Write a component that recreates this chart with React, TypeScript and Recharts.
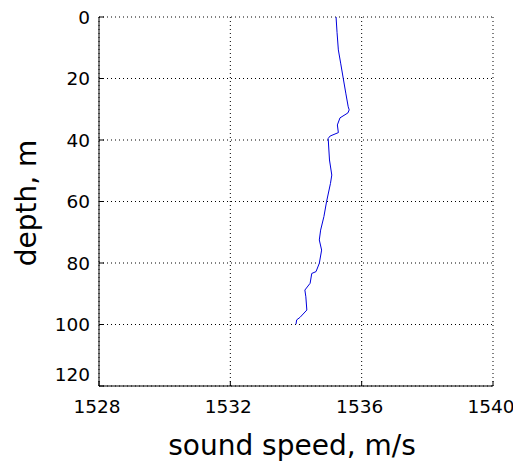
import {
  CartesianGrid,
  Label,
  Scatter,
  ScatterChart,
  XAxis,
  YAxis,
} from "recharts";
import { JSX } from "react";

const depths = [
  0, 5, 10.7, 15, 20, 25, 29.2, 30.2, 31.2, 32.8, 35.1, 37.6, 38.7, 39.5, 46.5,
  51.4, 54.1, 60.1, 64.9, 69.3, 72.5, 75.8, 80.1, 82.8, 83.4, 86.6, 88.8, 91,
  95.3, 97.7, 98.5, 99.9,
];
const speeds = [
  1535.22, 1535.25, 1535.29, 1535.36, 1535.44, 1535.52, 1535.59, 1535.62,
  1535.58, 1535.34, 1535.26, 1535.29, 1535.04, 1534.98, 1535.02, 1535.09,
  1535.05, 1534.93, 1534.85, 1534.75, 1534.71, 1534.78, 1534.71, 1534.61,
  1534.48, 1534.43, 1534.27, 1534.3, 1534.33, 1534.12, 1534.02, 1534.0,
];
const speedTicks = [1528, 1532, 1536, 1540];
const depthTicks = [0, 20, 40, 60, 80, 100, 120];

const profile = depths.map((d, i) => ({ depth: d, speed: speeds[i] }));

const FONT = "DejaVu Sans";

function BottomTick(props: any): JSX.Element {
  const { x, y, payload } = props;
  return (
    <g>
      <line x1={x} x2={x} y1={y} y2={y - 5} stroke="#000" />
      <text x={x - 2} y={y + 27} textAnchor="middle" fontSize={18.5} fontFamily={FONT} fill="#000">
        {payload.value}
      </text>
    </g>
  );
}

function LeftTick(props: any): JSX.Element {
  const { x, y, payload } = props;
  const dy = payload.value === 120 ? -5 : 6.5;
  return (
    <g>
      <line x1={x} x2={x + 5} y1={y} y2={y} stroke="#000" />
      <text x={x - 9} y={y + dy} textAnchor="end" fontSize={18.5} fontFamily={FONT} fill="#000">
        {payload.value}
      </text>
    </g>
  );
}

function TopTick(props: any): JSX.Element {
  const { x, y } = props;
  return <line x1={x} x2={x} y1={y} y2={y + 5} stroke="#000" />;
}

function RightTick(props: any): JSX.Element {
  const { x, y } = props;
  return <line x1={x} x2={x - 5} y1={y} y2={y} stroke="#000" />;
}

export default function App(): JSX.Element {
  return (
    <div>
      <style>{"html, body { overflow: hidden; }"}</style>
      <ScatterChart
        width={513}
        height={454}
        margin={{ top: 9, right: 28, left: 0, bottom: 0 }}
        style={{ overflow: "visible" }}
      >
        <CartesianGrid stroke="#000" strokeDasharray="1 3" />
        <XAxis
          type="number"
          dataKey="speed"
          domain={[1528, 1540]}
          ticks={speedTicks}
          interval={0}
          height={76}
          tickSize={0}
          tickMargin={0}
          tickLine={false}
          axisLine={{ stroke: "#000" }}
          tick={<BottomTick />}
        >
          <Label
            content={(p: any) => (
              <text
                x={p.viewBox.x + p.viewBox.width / 2 - 4}
                y={p.viewBox.y + 69}
                textAnchor="middle"
                fontSize={28}
                fontFamily={FONT}
                fill="#000"
              >
                sound speed, m/s
              </text>
            )}
          />
        </XAxis>
        <XAxis
          xAxisId="top"
          orientation="top"
          type="number"
          domain={[1528, 1540]}
          ticks={speedTicks}
          interval={0}
          height={0}
          tickSize={0}
          tickMargin={0}
          tickLine={false}
          axisLine={{ stroke: "#000" }}
          tick={<TopTick />}
        />
        <YAxis
          type="number"
          dataKey="depth"
          domain={[0, 120]}
          ticks={depthTicks}
          interval={0}
          reversed
          width={91}
          tickSize={0}
          tickMargin={0}
          tickLine={false}
          axisLine={{ stroke: "#000" }}
          tick={<LeftTick />}
        >
          <Label
            content={(p: any) => {
              const cx = p.viewBox.x + 28;
              const cy = p.viewBox.y + p.viewBox.height / 2 + 1.5;
              return (
                <text
                  x={cx}
                  y={cy}
                  transform={`rotate(-90 ${cx} ${cy})`}
                  textAnchor="middle"
                  fontSize={28}
                  fontFamily={FONT}
                  fill="#000"
                >
                  depth, m
                </text>
              );
            }}
          />
        </YAxis>
        <YAxis
          yAxisId="right"
          orientation="right"
          type="number"
          domain={[0, 120]}
          ticks={depthTicks}
          interval={0}
          reversed
          width={0}
          tickSize={0}
          tickMargin={0}
          tickLine={false}
          axisLine={{ stroke: "#000" }}
          tick={<RightTick />}
        />
        <Scatter
          data={profile}
          dataKey="speed"
          line={{ stroke: "#0000dd", strokeWidth: 1 }}
          shape={() => <g />}
          isAnimationActive={false}
        />
      </ScatterChart>
    </div>
  );
}
